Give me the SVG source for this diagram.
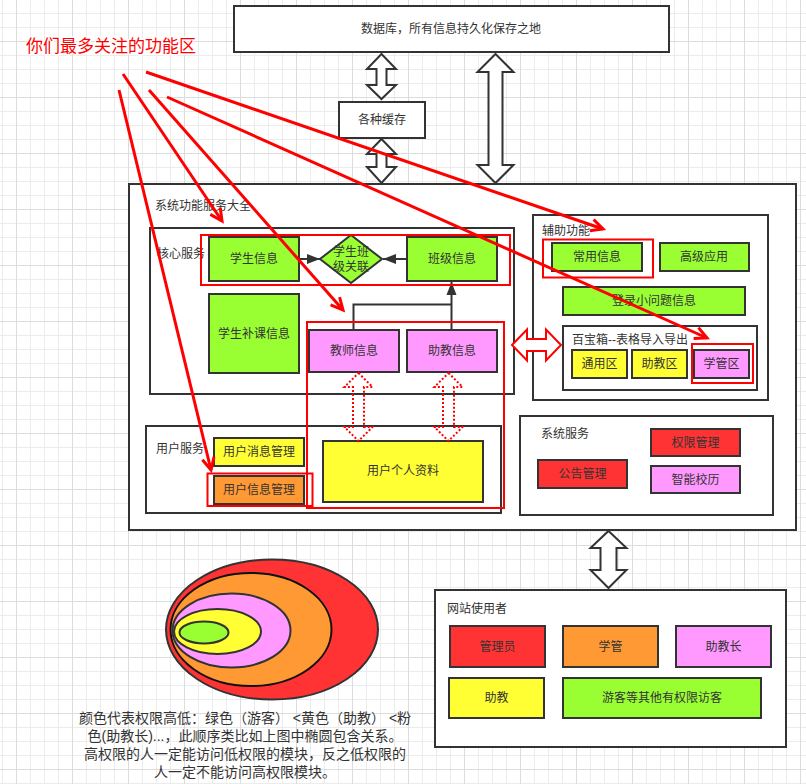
<svg xmlns="http://www.w3.org/2000/svg" width="806" height="784" viewBox="0 0 806 784">
<defs>
<pattern id="grid" patternUnits="userSpaceOnUse" x="16" y="41" width="56" height="56">
<path d="M14.5,0V56M28.5,0V56M42.5,0V56M0,14.5H56M0,28.5H56M0,42.5H56" stroke="#ececec" stroke-width="1" fill="none"/>
<path d="M0.5,0V56M0,0.5H56" stroke="#dcdcdc" stroke-width="1" fill="none"/>
</pattern>
<marker id="redHead" markerUnits="userSpaceOnUse" markerWidth="16" markerHeight="16" refX="13" refY="7" orient="auto" viewBox="0 0 16 14">
<path d="M1,1 L13,7 L1,13" fill="none" stroke="#ff0000" stroke-width="3"/>
</marker>
<marker id="darkHead" markerUnits="userSpaceOnUse" markerWidth="14" markerHeight="12" refX="13" refY="6" orient="auto" viewBox="0 0 14 12">
<path d="M0,1 L13,6 L0,11 Z" fill="#333333"/>
</marker>
<style>
text{font-family:"Liberation Sans","Noto Sans CJK SC",sans-serif;font-size:12px;fill:#333333;text-anchor:middle;dominant-baseline:central}
.lbl{text-anchor:start}
.box{stroke:#333333;stroke-width:2}
.cont{fill:#ffffff;stroke:#333333;stroke-width:2}
.g{fill:#99ff33}
.p{fill:#ff99ff}
.y{fill:#ffff33}
.o{fill:#ff9933}
.r{fill:#ff3333}
.hl{fill:none;stroke:#ff0000;stroke-width:2}
.harrow{fill:#ffffff;stroke:#333333;stroke-width:2;stroke-linejoin:miter}
.redline{stroke:#ff0000;stroke-width:3;fill:none;marker-end:url(#redHead)}
.dotarrow{fill:none;stroke:#ff0000;stroke-width:2;stroke-dasharray:2 2}
.ell{stroke:#333333;stroke-width:2}
.note{font-size:14px}
</style>
</defs>
<rect width="806" height="784" fill="#ffffff"/>
<rect width="806" height="784" fill="url(#grid)"/>

<g id="database"><rect class="cont" x="234" y="6" width="435" height="46"/><text x="451" y="29">数据库，所有信息持久化保存之地</text></g>
<g id="cache"><rect class="cont" x="339" y="102" width="86" height="36"/><text x="382" y="120">各种缓存</text></g>

<g id="system"><rect class="cont" x="129" y="184" width="667" height="346"/><text class="lbl" x="155" y="206">系统功能服务大全</text></g>

<g id="core"><rect class="cont" x="150" y="228" width="364" height="166"/><text class="lbl" x="157" y="254">核心服务</text></g>
<g id="student-info"><rect class="box g" x="209" y="237" width="90" height="44"/><text x="254" y="259">学生信息</text></g>
<g id="student-class"><path class="box g" d="M351,235 L382,259 L351,283 L320,259 Z"/><text x="351" y="252">学生班</text><text x="351" y="267">级关联</text></g>
<g id="class-info"><rect class="box g" x="407" y="237" width="90" height="44"/><text x="452" y="259">班级信息</text></g>
<g id="tutoring"><rect class="box g" x="209" y="294" width="90" height="79"/><text x="254" y="334">学生补课信息</text></g>
<g id="teacher-info"><rect class="box p" x="309" y="330" width="90" height="42"/><text x="354" y="351">教师信息</text></g>
<g id="ta-info"><rect class="box p" x="407" y="330" width="90" height="42"/><text x="452" y="351">助教信息</text></g>

<g id="user-service"><rect class="cont" x="146" y="426" width="355" height="87"/><text class="lbl" x="156" y="449">用户服务</text></g>
<g id="user-msg"><rect class="box y" x="214" y="438" width="90" height="28"/><text x="259" y="452">用户消息管理</text></g>
<g id="user-info"><rect class="box o" x="214" y="476" width="90" height="28"/><text x="259" y="490">用户信息管理</text></g>
<g id="profile"><rect class="box y" x="323" y="441" width="160" height="61"/><text x="403" y="471">用户个人资料</text></g>

<g id="aux"><rect class="cont" x="533" y="215" width="235" height="185"/><text class="lbl" x="542" y="231">辅助功能</text></g>
<g id="common-info"><rect class="box g" x="552" y="243" width="90" height="28"/><text x="597" y="257">常用信息</text></g>
<g id="advanced"><rect class="box g" x="660" y="243" width="89" height="28"/><text x="704" y="257">高级应用</text></g>
<g id="login-issues"><rect class="box g" x="563" y="287" width="182" height="28"/><text x="654" y="301">登录小问题信息</text></g>
<g id="toolbox"><rect class="cont" x="563" y="326" width="194" height="64"/><text class="lbl" x="572" y="340">百宝箱--表格导入导出</text></g>
<g id="general-zone"><rect class="box y" x="572" y="350" width="55" height="28"/><text x="599.5" y="364">通用区</text></g>
<g id="ta-zone"><rect class="box y" x="632" y="350" width="55" height="28"/><text x="659.5" y="364">助教区</text></g>
<g id="admin-zone"><rect class="box p" x="694" y="350" width="55" height="28"/><text x="721.5" y="364">学管区</text></g>

<g id="sys-service"><rect class="cont" x="520" y="416" width="253" height="99"/><text class="lbl" x="541" y="434">系统服务</text></g>
<g id="permission"><rect class="box r" x="651" y="429" width="89" height="27"/><text x="695.5" y="442.5">权限管理</text></g>
<g id="notice"><rect class="box r" x="538" y="460" width="89" height="28"/><text x="582.5" y="474">公告管理</text></g>
<g id="calendar"><rect class="box p" x="651" y="466" width="89" height="27"/><text x="695.5" y="479.5">智能校历</text></g>

<g id="users"><rect class="cont" x="435" y="590" width="351" height="157"/><text class="lbl" x="447" y="609">网站使用者</text></g>
<g id="admin"><rect class="box r" x="450" y="626" width="95" height="41"/><text x="497.5" y="646.5">管理员</text></g>
<g id="manager"><rect class="box o" x="563" y="626" width="95" height="41"/><text x="610.5" y="646.5">学管</text></g>
<g id="head-ta"><rect class="box p" x="676" y="626" width="95" height="41"/><text x="723.5" y="646.5">助教长</text></g>
<g id="ta"><rect class="box y" x="449" y="678" width="95" height="40"/><text x="496.5" y="698">助教</text></g>
<g id="guest"><rect class="box g" x="563" y="678" width="198" height="40"/><text x="662" y="698">游客等其他有权限访客</text></g>

<g id="legend">
<ellipse class="ell r" cx="272" cy="629.5" rx="106" ry="70"/>
<ellipse class="o" cx="251" cy="629.5" rx="80.5" ry="56.5" stroke="#111111" stroke-width="2"/>
<ellipse class="ell p" cx="231.5" cy="630.5" rx="59" ry="37"/>
<ellipse class="ell y" cx="217.5" cy="631.5" rx="43.5" ry="22.5"/>
<ellipse class="ell g" cx="204" cy="632.5" rx="24.5" ry="11"/>
<text class="note" x="245" y="718">颜色代表权限高低：绿色（游客） &lt;黄色（助教） &lt;粉</text>
<text class="note" x="245" y="736">色(助教长)...，此顺序类比如上图中椭圆包含关系。</text>
<text class="note" x="245" y="754">高权限的人一定能访问低权限的模块，反之低权限的</text>
<text class="note" x="245" y="772">人一定不能访问高权限模块。</text>
</g>

<g id="connectors">
<path class="harrow" d="M381.5,54 L396,69 L386.5,69 L386.5,85 L396,85 L381.5,99 L367,85 L376.5,85 L376.5,69 L367,69 Z"/>
<path class="harrow" d="M381.5,139 L396,154 L386.5,154 L386.5,167 L396,167 L381.5,183 L367,167 L376.5,167 L376.5,154 L367,154 Z"/>
<path class="harrow" d="M495.5,54 L513.5,72 L502.5,72 L502.5,165 L513.5,165 L495.5,183 L477.5,165 L488.5,165 L488.5,72 L477.5,72 Z"/>
<path class="harrow" d="M608.5,531 L626.5,548 L616.5,548 L616.5,570 L626.5,570 L608.5,588 L590.5,570 L600.5,570 L600.5,548 L590.5,548 Z"/>
<path d="M512,345 L527,329.5 L527,339 L546,339 L546,329.5 L561,345 L546,360.5 L546,351 L527,351 L527,360.5 Z" fill="#ffffff" stroke="#ff0000" stroke-width="2"/>
<path class="dotarrow" d="M358.5,373 L372.5,387 L364,387 L364,427 L372.5,427 L358.5,441 L344.5,427 L353,427 L353,387 L344.5,387 Z"/>
<path class="dotarrow" d="M448.5,373 L462.5,387 L454,387 L454,427 L462.5,427 L448.5,441 L434.5,427 L443,427 L443,387 L434.5,387 Z"/>
<line x1="300" y1="259" x2="320" y2="259" stroke="#333333" stroke-width="2" marker-end="url(#darkHead)"/>
<line x1="406" y1="259" x2="383" y2="259" stroke="#333333" stroke-width="2" marker-end="url(#darkHead)"/>
<path d="M353.5,329 V304.5 H451.5" fill="none" stroke="#333333" stroke-width="2"/>
<path d="M451.5,329 V282" fill="none" stroke="#333333" stroke-width="2" marker-end="url(#darkHead)"/>
</g>

<g id="highlights">
<rect class="hl" x="201" y="235" width="309" height="50"/>
<rect class="hl" x="307" y="322" width="197" height="186"/>
<rect class="hl" x="207.5" y="473.5" width="105" height="32.5"/>
<rect class="hl" x="543" y="239.5" width="110" height="38"/>
<rect class="hl" x="692" y="344" width="61" height="39"/>
</g>

<g id="annotation">
<line class="redline" x1="119" y1="90" x2="211" y2="470"/>
<line class="redline" x1="123" y1="74" x2="222" y2="221"/>
<line class="redline" x1="149" y1="90" x2="343" y2="310"/>
<line class="redline" x1="167" y1="97" x2="707" y2="338"/>
<line class="redline" x1="146" y1="72" x2="603" y2="229"/>
<text x="111" y="46" style="font-size:17px;fill:#ff0000;stroke:#ffffff;stroke-width:3;paint-order:stroke;stroke-linejoin:round">你们最多关注的功能区</text>
</g>
</svg>
